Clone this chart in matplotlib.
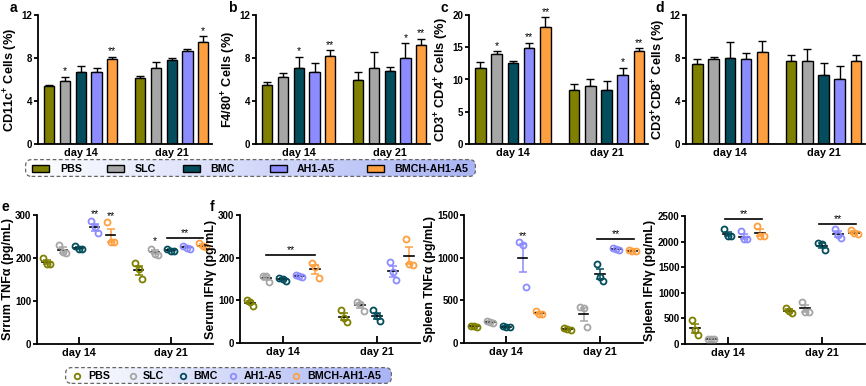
import numpy as np
import matplotlib
matplotlib.use("Agg")
import matplotlib.pyplot as plt
from matplotlib.patches import FancyBboxPatch, Rectangle

plt.rcParams['font.family'] = ['Liberation Sans', 'DejaVu Sans']
plt.rcParams['font.weight'] = 'bold'
plt.rcParams['mathtext.fontset'] = 'custom'
plt.rcParams['mathtext.rm'] = 'Liberation Sans:bold'
plt.rcParams['mathtext.it'] = 'Liberation Sans:bold'
plt.rcParams['mathtext.bf'] = 'Liberation Sans:bold'

groups = ['PBS', 'SLC', 'BMC', 'AH1-A5', 'BMCH-AH1-A5']
days = ['day 14', 'day 21']
colors = ['#7f7f00', '#a6a6a6', '#034d5c', '#8c8cff', '#ffa040']

# ---- bar panels (mean, upper error, significance), [day][group]
cd11c_mean = [[5.4, 5.9, 6.73, 6.67, 7.88], [6.14, 7.04, 7.84, 8.62, 9.46]]
cd11c_err = [[0.05, 0.37, 0.5, 0.4, 0.25], [0.18, 0.6, 0.2, 0.2, 0.55]]
cd11c_sig = [['', '*', '', '', '**'], ['', '', '', '', '*']]

f480_mean = [[5.45, 6.26, 7.1, 6.73, 8.19], [5.98, 7.07, 6.79, 7.97, 9.22]]
f480_err = [[0.35, 0.37, 1.03, 0.78, 0.53], [0.69, 1.46, 0.37, 1.4, 0.56]]
f480_sig = [['', '', '*', '', '**'], ['', '', '', '*', '**']]

cd4_mean = [[11.75, 13.97, 12.63, 14.9, 18.1], [8.35, 8.97, 8.3, 10.72, 14.48]]
cd4_err = [[1.03, 0.4, 0.3, 0.82, 1.55], [0.88, 1.03, 1.44, 1.03, 0.36]]
cd4_sig = [['', '*', '', '**', '**'], ['', '', '', '*', '**']]

cd8_mean = [[7.45, 7.88, 8.0, 7.88, 8.6], [7.69, 7.69, 6.45, 6.0, 7.73]]
cd8_err = [[0.44, 0.25, 1.5, 0.56, 0.97], [0.6, 1.12, 1.06, 1.25, 0.53]]
cd8_sig = [['', '', '', '', ''], ['', '', '', '', '']]

# ---- dot panels, three replicates, [day][group][rep]
serum_tnf = [[[200, 185, 186], [231, 212, 213], [229, 220, 220], [286, 258, 272], [283, 238, 237]],
             [[188, 152, 174], [222, 207, 210], [222, 216, 217], [229, 222, 224], [234, 225, 228]]]
serum_ifn = [[[100, 87, 97], [157, 143, 156], [153, 146, 150], [160, 155, 157], [187, 153, 178]],
             [[77, 49, 58], [97, 75, 92], [77, 52, 63], [190, 148, 166], [244, 183, 185]]]
spleen_tnf = [[[200, 190, 195], [262, 235, 245], [195, 190, 192], [1185, 660, 1145], [375, 340, 345]],
              [[175, 150, 160], [420, 188, 410], [925, 725, 775], [1110, 1095, 1100], [1090, 1075, 1080]]]
spleen_ifn = [[[460, 170, 280], [100, 95, 97], [2240, 2100, 2110], [2200, 2045, 2050], [2310, 2110, 2110]],
              [[695, 600, 650], [830, 630, 630], [1975, 1830, 1960], [2250, 2080, 2120], [2220, 2150, 2160]]]

day_gap = 5.75
W, H = 866, 386


def xpos(d, g):
    return d * day_gap + g


def style_axes(ax, ylim, yticks, ylabel, label_size):
    for s in ['top', 'right']:
        ax.spines[s].set_visible(False)
    for s in ['left', 'bottom']:
        ax.spines[s].set_linewidth(1.3)
    ax.set_ylim(ylim)
    ax.set_yticks(yticks)
    ax.set_xticks([xpos(0, 2), xpos(1, 2)])
    ax.set_xticklabels(days)
    ax.tick_params(axis='x', direction='in', length=5, width=1.3, labelsize=7.8, pad=3)
    ax.tick_params(axis='y', direction='out', length=3, width=1.3, labelsize=7, pad=1)
    ax.set_ylabel(ylabel, fontsize=label_size, fontweight='bold', labelpad=1)


def bar_panel(ax, means, errs, sigs, ylim, yticks, ylabel):
    for d in range(2):
        for g in range(5):
            x = xpos(d, g)
            m, e = means[d][g], errs[d][g]
            ax.bar(x, m, width=0.65, color=colors[g], edgecolor='black', linewidth=1.0, zorder=2)
            ax.errorbar(x, m, yerr=[[0], [e]], fmt='none', ecolor='black', elinewidth=1.0,
                        capsize=3, capthick=1.0, zorder=1)
            if sigs[d][g]:
                ax.text(x, m + e + ylim[1] * 0.005, sigs[d][g], ha='center', va='bottom',
                        fontsize=7.5, fontweight='normal')
    ax.set_xlim(-0.7, 10.3)
    style_axes(ax, ylim, yticks, ylabel, 9.2)


offsets = [-0.2, 0.2, 0.0]


def dot_panel(ax, data, ylim, yticks, ylabel):
    for d in range(2):
        for g in range(5):
            x = xpos(d, g)
            vals = np.array(data[d][g], dtype=float)
            m = vals.mean()
            sem = vals.std(ddof=1) / np.sqrt(len(vals))
            ax.errorbar(x, m, yerr=sem, fmt='none', ecolor=colors[g], elinewidth=1.1,
                        capsize=3, capthick=1.1, zorder=2)
            ax.plot([x - 0.3, x + 0.3], [m, m], color='black', lw=1.2, zorder=3)
            ax.plot(x + np.array(offsets), vals, 'o', mfc='none', mec=colors[g], mew=1.3,
                    ms=4.3, zorder=4)
    ax.set_xlim(-0.6, 10.4)
    style_axes(ax, ylim, yticks, ylabel, 9.0)


def bracket(ax, d, g0, g1, y, text, dx0=-0.15, dx1=0.1):
    x0, x1 = xpos(d, g0) + dx0, xpos(d, g1) + dx1
    ax.plot([x0, x1], [y, y], color='black', lw=1.2)
    ax.text((x0 + x1) / 2, y, text, ha='center', va='bottom', fontsize=7.5, fontweight='normal')


def star(ax, d, g, y, text):
    ax.text(xpos(d, g), y, text, ha='center', va='bottom', fontsize=7.5, fontweight='normal')


fig = plt.figure(figsize=(W / 100, H / 100), dpi=100)


def px_axes(l, r, top, bottom):
    return fig.add_axes([l / W, 1 - bottom / H, (r - l) / W, (bottom - top) / H])


ax_a = px_axes(38, 212, 15, 144)
ax_b = px_axes(256, 430, 15, 144)
ax_c = px_axes(469, 648, 15, 144)
ax_d = px_axes(686, 865, 15, 144)

bar_panel(ax_a, cd11c_mean, cd11c_err, cd11c_sig, (0, 12), [0, 4, 8, 12], r'CD11c$^{+}$ Cells (%)')
bar_panel(ax_b, f480_mean, f480_err, f480_sig, (0, 12), [0, 4, 8, 12], r'F4/80$^{+}$ Cells (%)')
bar_panel(ax_c, cd4_mean, cd4_err, cd4_sig, (0, 20), [0, 5, 10, 15, 20],
          r'CD3$^{+}$ CD4$^{+}$ Cells (%)')
bar_panel(ax_d, cd8_mean, cd8_err, cd8_sig, (0, 12), [0, 4, 8, 12], r'CD3$^{+}$CD8$^{+}$ Cells (%)')

ax_e = px_axes(37, 213, 215, 344)
ax_f = px_axes(240, 420, 215, 343)
ax_g = px_axes(464, 643, 215, 343)
ax_h = px_axes(685, 865, 216, 344)

dot_panel(ax_e, serum_tnf, (0, 300), [0, 100, 200, 300], 'Srrum TNFα (pg/mL)')
dot_panel(ax_f, serum_ifn, (0, 300), [0, 100, 200, 300], 'Serum IFNγ (pg/mL)')
dot_panel(ax_g, spleen_tnf, (0, 1500), [0, 500, 1000, 1500], 'Spleen TNFα (pg/mL)')
dot_panel(ax_h, spleen_ifn, (0, 2500), [0, 500, 1000, 1500, 2000, 2500], 'Spleen IFNγ (pg/mL)')

# significance marks on dot panels
star(ax_e, 0, 3, 291, '**')
star(ax_e, 0, 4, 287, '**')
star(ax_e, 1, 1, 228, '*')
bracket(ax_e, 1, 2, 4, 246, '**', -0.25, 0.05)
bracket(ax_f, 0, 1, 4, 206, '**', 0.0, 0.0)
star(ax_g, 0, 3, 1200, '**')
bracket(ax_g, 1, 2, 4, 1214, '**')
bracket(ax_h, 0, 2, 4, 2435, '**')
bracket(ax_h, 1, 2, 4, 2351, '**')

# panel letters
for txt, x, y in [('a', 10, 8), ('b', 228, 8), ('c', 440, 8), ('d', 655, 8),
                  ('e', 2, 207), ('f', 210, 207)]:
    fig.text(x / W, 1 - y / H, txt, fontsize=10, fontweight='bold', va='center', ha='left')

# ---- gradient legend boxes
grad = np.linspace(0, 1, 256)[None, :]
cmap = matplotlib.colors.LinearSegmentedColormap.from_list('lg', ['#ffffff', '#a9b4f4'])


def legend_box(l, r, top, bottom):
    w, h = r - l, bottom - top
    lax = px_axes(l, r, top, bottom)
    lax.set_xlim(0, w)
    lax.set_ylim(0, h)
    lax.axis('off')
    box = FancyBboxPatch((0.6, 0.6), w - 1.2, h - 1.2, boxstyle='round,pad=0,rounding_size=6',
                         facecolor='none', edgecolor='#666666', lw=0.9, ls=(0, (3, 2)),
                         transform=lax.transData, clip_on=False)
    im = lax.imshow(grad, extent=(0, w, 0, h), aspect='auto', cmap=cmap, zorder=0)
    im.set_clip_path(box)
    lax.add_patch(box)
    return lax, h


lax, h = legend_box(25, 476, 159, 177)
for g, (px, tx) in enumerate(zip([7, 82, 158, 245, 342], [35, 110, 185, 272, 369])):
    lax.add_patch(Rectangle((px, h / 2 - 3.5), 17, 7, facecolor=colors[g], edgecolor='black', lw=1.0))
    lax.text(tx, h / 2 - 0.5, groups[g], fontsize=7.7, fontweight='bold', va='center', ha='left')

lax2, h2 = legend_box(65, 392, 367, 384)
for g, (px, tx) in enumerate(zip([12, 68, 118, 168, 231], [23, 78, 128, 179, 242])):
    lax2.plot([px], [h2 / 2], 'o', mfc='none', mec=colors[g], mew=1.3, ms=4)
    lax2.text(tx, h2 / 2 - 0.5, groups[g], fontsize=7.7, fontweight='bold', va='center', ha='left')

fig.savefig('out.png', dpi=100)
